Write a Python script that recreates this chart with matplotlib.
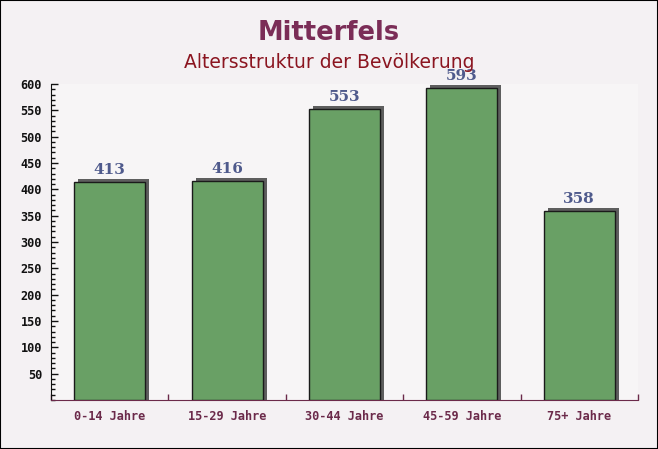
import matplotlib
matplotlib.use("Agg")
import matplotlib.pyplot as plt
import matplotlib.transforms as mtransforms
from matplotlib.ticker import MultipleLocator, FixedLocator
from matplotlib.patches import Rectangle

categories = ["0-14 Jahre", "15-29 Jahre", "30-44 Jahre", "45-59 Jahre", "75+ Jahre"]
values = [413, 416, 553, 593, 358]
title = "Mitterfels"
subtitle = "Altersstruktur der Bevölkerung"

W, H, DPI = 658, 449, 100
fig = plt.figure(figsize=(W / DPI, H / DPI), dpi=DPI, facecolor="#f4f1f3")

ax = fig.add_axes([51 / W, 1 - 400 / H, 587 / W, 316 / H])
ax.set_facecolor("#f7f5f6")
ax.set_xlim(-0.5, len(categories) - 0.5)
ax.set_ylim(0, 600)

x = list(range(len(categories)))
bw = 0.605
shadow = ax.transData + mtransforms.ScaledTranslation(4 / DPI, 3 / DPI, fig.dpi_scale_trans)
ext = 10
ax.bar(x, [v + ext for v in values], bottom=-ext, width=bw, color="#5e5e5e",
       edgecolor="none", transform=shadow, zorder=2)
ax.bar(x, values, width=bw, color="#69a065", edgecolor="#1a1a1a", linewidth=1.0, zorder=3)

for xi, v in zip(x, values):
    ax.annotate(str(v), (xi, v), xytext=(0, 5), textcoords="offset pixels",
                ha="center", va="bottom", fontsize=11, fontweight="bold",
                family="DejaVu Serif", color="#4f5a8c", zorder=4)

for s in ["top", "right"]:
    ax.spines[s].set_visible(False)
ax.spines["left"].set_color("#111111")
ax.spines["bottom"].set_color("#6b2a4a")

ax.yaxis.set_major_locator(FixedLocator(list(range(50, 601, 50))))
ax.yaxis.set_minor_locator(MultipleLocator(10))
ax.tick_params(axis="y", which="major", direction="in", length=5, width=1,
               color="#111111", pad=6.5, labelsize=8.6, labelcolor="#111111")
ax.tick_params(axis="y", which="minor", direction="in", length=3, width=1, color="#111111")
for lab in ax.get_yticklabels():
    lab.set_family("DejaVu Sans Mono")
    lab.set_fontweight("bold")

ax.set_xticks(x)
ax.set_xticklabels(categories, family="DejaVu Sans Mono", fontweight="bold",
                   fontsize=8.6, color="#6b2a4a")
ax.tick_params(axis="x", which="major", length=0, pad=7)
ax.xaxis.set_minor_locator(FixedLocator([i - 0.5 for i in range(len(categories) + 1)]))
ax.tick_params(axis="x", which="minor", direction="in", length=4, width=1, color="#6b2a4a")

fig.text(0.5, 1 - 40 / H, title, ha="center", va="baseline", fontsize=18.5,
         fontweight="bold", color="#7b2d57")
fig.text(0.5, 1 - 68 / H, subtitle, ha="center", va="baseline", fontsize=13.5,
         color="#8b1520")

fig.patches.append(Rectangle((0, 0), 1, 1, transform=fig.transFigure, fill=False,
                             edgecolor="black", linewidth=1.5))

fig.savefig("out.png", dpi=DPI, facecolor=fig.get_facecolor())
